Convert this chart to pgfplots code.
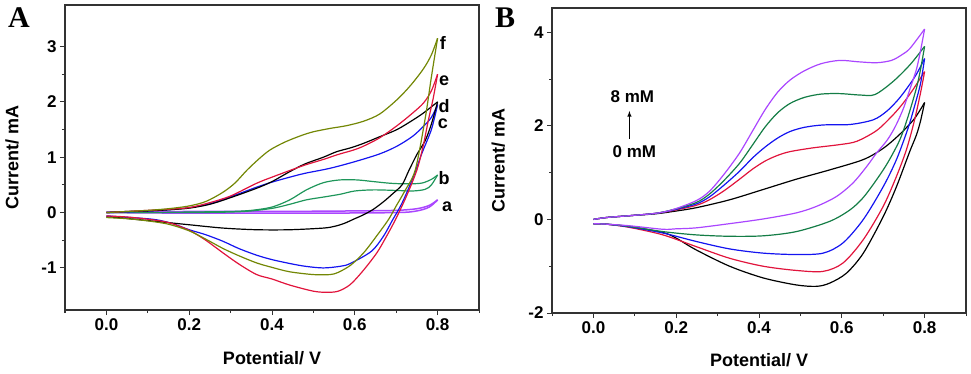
\documentclass[border=0pt]{standalone}
\usepackage{fontspec}
\setmainfont{Liberation Sans}
\newfontfamily\panelfont{Liberation Serif}
\usepackage{pgfplots}
\pgfplotsset{compat=1.18}

\definecolor{cvpurple}{RGB}{170,70,255}
\definecolor{cvgreenA}{RGB}{30,150,90}
\definecolor{cvgreenB}{RGB}{20,125,70}
\definecolor{cvblue}{RGB}{20,20,240}
\definecolor{cvred}{RGB}{225,20,60}
\definecolor{cvolive}{RGB}{115,135,5}
\definecolor{frame}{RGB}{50,50,50}

\pgfplotsset{
  cvaxis/.style={
    scale only axis, width=414pt, height=305pt,
    xmin=-0.1, xmax=0.9,
    xtick={0,0.2,0.4,0.6,0.8},
    minor xtick={-0.1,0.1,0.3,0.5,0.7,0.9},
    minor y tick num=1,
    tick align=outside, tick pos=left,
    major tick length=5pt, minor tick length=3pt,
    axis line style={draw=frame, line width=1.3pt},
    every tick/.style={frame, line width=1pt},
    tick label style={font=\fontsize{17}{17}\selectfont\bfseries},
    /pgf/number format/assume math mode=true,
    xticklabel style={/pgf/number format/.cd, fixed, fixed zerofill, precision=1},
    label style={font=\fontsize{18}{18}\selectfont\bfseries},
    xlabel={Potential/ V}, ylabel={Current/ mA},
    every axis plot/.append style={smooth, tension=0.5, line width=1.2pt, mark=none},
  },
}

\begin{document}
\begin{tikzpicture}
\path[use as bounding box] (0,0) rectangle (971pt,373pt);

% ---------- panel A ----------
\begin{axis}[cvaxis, at={(65pt,63pt)}, anchor=south west,
  ymin=-1.76, ymax=3.75, ytick={-1,0,1,2,3},
  x label style={at={(axis description cs:0.5,-0.157)}, anchor=center},
  y label style={at={(axis description cs:-0.128,0.5)}, anchor=center},
]
% a
\addplot[cvpurple, line width=1.5pt] coordinates {(0,0.01) (0.2,0.02) (0.4,0.02) (0.6,0.03) (0.7,0.04) (0.75,0.07) (0.78,0.13) (0.8,0.23)};
\addplot[cvpurple, line width=1.5pt] coordinates {(0.8,0.23) (0.78,0.1) (0.75,0.03) (0.7,0.0) (0.5,-0.01) (0.2,-0.01) (0,0.0)};
% b
\addplot[cvgreenA] coordinates {(0,0) (0.1,0.0) (0.2,0.01) (0.3,0.02) (0.35,0.04) (0.4,0.1) (0.443,0.23) (0.483,0.41) (0.524,0.54) (0.564,0.59) (0.605,0.59) (0.645,0.56) (0.685,0.53) (0.72,0.52) (0.76,0.53) (0.785,0.6) (0.8,0.68)};
\addplot[cvgreenA] coordinates {(0.8,0.68) (0.785,0.5) (0.77,0.42) (0.74,0.39) (0.7,0.4) (0.645,0.41) (0.6,0.39) (0.564,0.33) (0.524,0.28) (0.483,0.23) (0.443,0.15) (0.403,0.08) (0.35,0.03) (0.3,0.01) (0.2,0.0) (0,0)};
% c
\addplot[cvblue] coordinates {(0,0) (0.05,0.01) (0.1,0.03) (0.15,0.05) (0.2,0.09) (0.25,0.16) (0.282,0.24) (0.32,0.34) (0.363,0.46) (0.4,0.55) (0.443,0.64) (0.48,0.71) (0.54,0.8) (0.6,0.92) (0.66,1.06) (0.702,1.2) (0.74,1.38) (0.766,1.56) (0.785,1.72) (0.8,1.95)};
\addplot[cvblue] coordinates {(0.8,1.95) (0.785,1.5) (0.762,1.07) (0.74,0.62) (0.714,0.17) (0.69,-0.15) (0.669,-0.43) (0.64,-0.7) (0.589,-0.92) (0.565,-0.97) (0.524,-1.0) (0.48,-0.97) (0.443,-0.92) (0.4,-0.85) (0.363,-0.77) (0.32,-0.65) (0.282,-0.52) (0.24,-0.4) (0.2,-0.31) (0.16,-0.2) (0.121,-0.13) (0.08,-0.1) (0.04,-0.08) (0,-0.06)};
% d
\addplot[black] coordinates {(0,0) (0.05,0.02) (0.1,0.03) (0.15,0.05) (0.2,0.08) (0.25,0.15) (0.3,0.27) (0.363,0.44) (0.4,0.56) (0.443,0.74) (0.48,0.88) (0.524,1.0) (0.556,1.1) (0.59,1.17) (0.621,1.25) (0.66,1.37) (0.702,1.5) (0.74,1.67) (0.766,1.8) (0.8,2.0)};
\addplot[black] coordinates {(0.8,2.0) (0.785,1.6) (0.77,1.3) (0.75,1.05) (0.73,0.75) (0.714,0.5) (0.69,0.33) (0.67,0.2) (0.645,0.06) (0.621,-0.04) (0.6,-0.11) (0.573,-0.2) (0.55,-0.25) (0.524,-0.28) (0.443,-0.31) (0.363,-0.31) (0.282,-0.28) (0.2,-0.22) (0.121,-0.16) (0.04,-0.1) (0,-0.08)};
% e
\addplot[cvred] coordinates {(0,0) (0.05,0.02) (0.1,0.04) (0.15,0.06) (0.2,0.09) (0.25,0.18) (0.3,0.3) (0.363,0.53) (0.4,0.64) (0.443,0.76) (0.48,0.86) (0.524,0.96) (0.56,1.05) (0.597,1.13) (0.621,1.2) (0.66,1.35) (0.702,1.57) (0.74,1.8) (0.766,1.98) (0.785,2.2) (0.8,2.5)};
\addplot[cvred] coordinates {(0.8,2.5) (0.789,2.05) (0.778,1.68) (0.765,1.2) (0.75,0.77) (0.725,0.3) (0.698,-0.13) (0.675,-0.45) (0.653,-0.73) (0.62,-1.05) (0.589,-1.3) (0.56,-1.42) (0.532,-1.44) (0.5,-1.42) (0.443,-1.31) (0.4,-1.2) (0.363,-1.12) (0.32,-0.93) (0.282,-0.73) (0.24,-0.5) (0.2,-0.32) (0.15,-0.18) (0.1,-0.12) (0.05,-0.08) (0,-0.06)};
% f
\addplot[cvolive] coordinates {(0,0) (0.05,0.02) (0.1,0.04) (0.15,0.07) (0.2,0.12) (0.24,0.2) (0.28,0.36) (0.31,0.53) (0.34,0.77) (0.37,0.98) (0.395,1.13) (0.43,1.27) (0.47,1.39) (0.5,1.46) (0.54,1.52) (0.58,1.57) (0.621,1.65) (0.66,1.78) (0.702,2.04) (0.735,2.3) (0.766,2.6) (0.785,2.85) (0.8,3.15)};
\addplot[cvolive] coordinates {(0.8,3.15) (0.785,2.45) (0.77,1.7) (0.746,0.77) (0.72,0.38) (0.7,0.12) (0.681,-0.13) (0.65,-0.45) (0.621,-0.73) (0.59,-0.95) (0.56,-1.08) (0.54,-1.12) (0.5,-1.12) (0.443,-1.07) (0.4,-0.99) (0.363,-0.91) (0.32,-0.78) (0.282,-0.65) (0.24,-0.48) (0.2,-0.33) (0.15,-0.21) (0.1,-0.15) (0.05,-0.11) (0,-0.09)};

\begin{scope}[every node/.style={font=\fontsize{18}{18}\selectfont\bfseries, anchor=center, inner sep=0pt}]
\node at (axis cs:0.813,3.07) {f};
\node at (axis cs:0.816,2.38) {e};
\node at (axis cs:0.816,1.93) {d};
\node at (axis cs:0.813,1.61) {c};
\node at (axis cs:0.816,0.62) {b};
\node at (axis cs:0.823,0.10) {a};
\end{scope}
\end{axis}

% ---------- panel B ----------
\begin{axis}[cvaxis, at={(552pt,60pt)}, anchor=south west,
  ymin=-2, ymax=4.52, ytick={-2,0,2,4},
  x label style={at={(axis description cs:0.5,-0.154)}, anchor=center},
  y label style={at={(axis description cs:-0.130,0.5)}, anchor=center},
]
% 0 mM
\addplot[black] coordinates {(0,0) (0.03,0.04) (0.087,0.08) (0.15,0.12) (0.192,0.17) (0.248,0.25) (0.329,0.42) (0.41,0.64) (0.49,0.86) (0.571,1.06) (0.652,1.28) (0.7,1.52) (0.74,1.82) (0.775,2.15) (0.8,2.5)};
\addplot[black] coordinates {(0.8,2.5) (0.79,2.1) (0.78,1.8) (0.764,1.45) (0.732,0.7) (0.7,0.06) (0.652,-0.72) (0.611,-1.15) (0.571,-1.36) (0.539,-1.43) (0.49,-1.4) (0.41,-1.25) (0.329,-1.0) (0.248,-0.65) (0.2,-0.4) (0.168,-0.28) (0.087,-0.15) (0.03,-0.1) (0,-0.09)};
% red
\addplot[cvred] coordinates {(0,0) (0.03,0.04) (0.087,0.08) (0.15,0.13) (0.192,0.19) (0.248,0.3) (0.28,0.42) (0.315,0.61) (0.353,0.86) (0.385,1.08) (0.415,1.25) (0.445,1.37) (0.475,1.45) (0.53,1.53) (0.595,1.6) (0.636,1.67) (0.684,1.9) (0.72,2.2) (0.745,2.45) (0.77,2.75) (0.8,3.16)};
\addplot[cvred] coordinates {(0.8,3.16) (0.79,2.7) (0.775,2.1) (0.756,1.49) (0.732,0.92) (0.7,0.28) (0.652,-0.43) (0.603,-0.93) (0.555,-1.11) (0.49,-1.09) (0.41,-1.0) (0.329,-0.83) (0.248,-0.58) (0.168,-0.33) (0.087,-0.17) (0.03,-0.1) (0,-0.09)};
% blue
\addplot[cvblue] coordinates {(0,0) (0.03,0.04) (0.087,0.08) (0.15,0.13) (0.192,0.2) (0.248,0.33) (0.28,0.48) (0.315,0.73) (0.353,1.03) (0.385,1.32) (0.415,1.55) (0.445,1.74) (0.475,1.88) (0.51,1.97) (0.555,2.02) (0.62,2.03) (0.676,2.13) (0.708,2.31) (0.735,2.55) (0.757,2.8) (0.78,3.1) (0.8,3.44)};
\addplot[cvblue] coordinates {(0.8,3.44) (0.79,2.9) (0.775,2.4) (0.76,1.95) (0.732,1.28) (0.7,0.7) (0.652,0.0) (0.603,-0.5) (0.555,-0.72) (0.49,-0.75) (0.41,-0.72) (0.329,-0.63) (0.248,-0.47) (0.168,-0.29) (0.087,-0.16) (0.03,-0.1) (0,-0.09)};
% green
\addplot[cvgreenB] coordinates {(0,0) (0.03,0.04) (0.087,0.08) (0.15,0.13) (0.192,0.21) (0.248,0.36) (0.28,0.54) (0.315,0.83) (0.353,1.2) (0.385,1.6) (0.415,1.98) (0.445,2.28) (0.475,2.48) (0.51,2.61) (0.55,2.68) (0.595,2.69) (0.644,2.66) (0.68,2.67) (0.724,2.95) (0.765,3.31) (0.8,3.7)};
\addplot[cvgreenB] coordinates {(0.8,3.7) (0.79,3.2) (0.78,2.8) (0.76,2.2) (0.74,1.7) (0.71,1.2) (0.68,0.8) (0.65,0.45) (0.619,0.2) (0.571,-0.04) (0.49,-0.26) (0.41,-0.35) (0.329,-0.36) (0.248,-0.33) (0.168,-0.26) (0.087,-0.15) (0.03,-0.1) (0,-0.09)};
% purple
\addplot[cvpurple] coordinates {(0,0) (0.03,0.04) (0.087,0.08) (0.15,0.13) (0.192,0.21) (0.248,0.4) (0.28,0.6) (0.315,0.96) (0.353,1.42) (0.385,1.9) (0.415,2.35) (0.445,2.72) (0.475,2.98) (0.51,3.18) (0.55,3.33) (0.595,3.4) (0.64,3.37) (0.684,3.35) (0.72,3.4) (0.745,3.52) (0.765,3.66) (0.8,4.07)};
\addplot[cvpurple] coordinates {(0.8,4.07) (0.79,3.6) (0.78,3.2) (0.765,2.8) (0.75,2.4) (0.73,2.0) (0.71,1.7) (0.684,1.42) (0.66,1.13) (0.627,0.78) (0.587,0.49) (0.539,0.28) (0.49,0.14) (0.41,0.01) (0.329,-0.09) (0.248,-0.18) (0.2,-0.2) (0.168,-0.21) (0.087,-0.135) (0.03,-0.1) (0,-0.09)};

\begin{scope}[every node/.style={font=\fontsize{17}{17}\selectfont\bfseries, anchor=center}]
\node at (axis cs:0.094,2.62) {8 mM};
\node at (axis cs:0.099,1.45) {0 mM};
\end{scope}
\draw[-latex, line width=1pt] (axis cs:0.087,1.72) -- (axis cs:0.087,2.32);
\end{axis}

\node[font=\panelfont\fontsize{30}{30}\selectfont\bfseries] at (19pt,355pt) {A};
\node[font=\panelfont\fontsize{30}{30}\selectfont\bfseries] at (505pt,355pt) {B};
\end{tikzpicture}
\end{document}
